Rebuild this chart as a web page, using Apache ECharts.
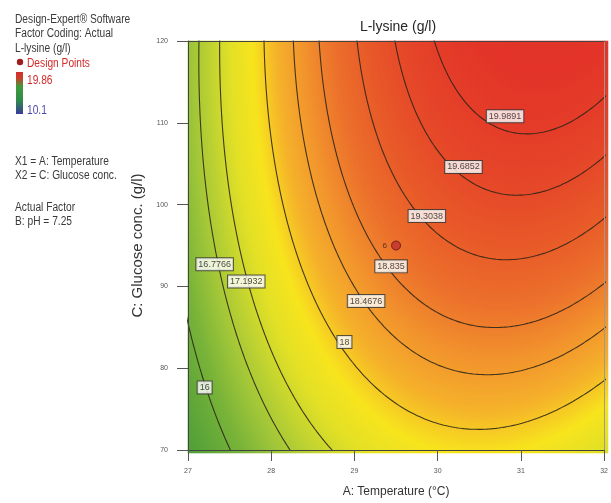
<!DOCTYPE html>
<html>
<head>
<meta charset="utf-8">
<script src="https://cdn.jsdelivr.net/npm/echarts@6/dist/echarts.min.js"></script>
<style>
  html, body { margin: 0; padding: 0; background: #ffffff; }
  #chart { width: 611px; height: 503px; }
</style>
</head>
<body>
<div id="chart"></div>
<script>
// Fitted quadratic model for L-lysine (g/l) in coded factors
// x = (Temperature - 29.5) / 2.5,  z = (Glucose - 95) / 25
const modelTerms = ['Intercept', 'A', 'C', 'AC', 'A^2', 'C^2'];
const modelCoefs = [19.01, 1.417, 1.036, 0.423, -1.31, -0.351];

const tempRange = [27, 32];
const glucoseRange = [70, 120];
const tempTicks = [27, 28, 29, 30, 31, 32];
const glucoseTicks = [70, 80, 90, 100, 110, 120];

// contour levels and where each level's label sits (temperature, glucose)
const contourLevels = [16, 16.7766, 17.1932, 18, 18.4676, 18.835, 19.3038, 19.6852, 19.9891];
const labelTemp = [27.20, 27.32, 27.70, 28.88, 29.14, 29.44, 29.87, 30.31, 30.81];
const labelGlucose = [77.65, 92.7, 90.6, 83.2, 88.2, 92.45, 98.6, 104.6, 110.8];

// design points: temperature, glucose, replicate count
const designPoints = [[29.5, 95, 6]];

// response range shown in the colour key
const responseRange = [10.1, 19.86];

const [b0, b1, b2, b12, b11, b22] = modelCoefs;
const tMid = (tempRange[0] + tempRange[1]) / 2, tHalf = (tempRange[1] - tempRange[0]) / 2;
const gMid = (glucoseRange[0] + glucoseRange[1]) / 2, gHalf = (glucoseRange[1] - glucoseRange[0]) / 2;

function lysine(t, g) {
  const x = (t - tMid) / tHalf, z = (g - gMid) / gHalf;
  return b0 + b1 * x + b2 * z + b12 * x * z + b11 * x * x + b22 * z * z;
}

// ---- surface cells (2 px each) ----
const NX = 210, NY = 206;
const xCats = [], yCats = [], cells = [];
for (let i = 0; i < NX; i++) xCats.push(i);
for (let j = 0; j < NY; j++) yCats.push(j);
for (let i = 0; i < NX; i++) {
  const t = tempRange[0] + (i + 0.5) * (tempRange[1] - tempRange[0]) / NX;
  for (let j = 0; j < NY; j++) {
    const g = glucoseRange[0] + (j + 0.5) * (glucoseRange[1] - glucoseRange[0]) / NY;
    cells.push([i, j, lysine(t, g)]);
  }
}

// ---- contour lines: the model is an elliptic paraboloid, so each level is an ellipse ----
const det = 4 * b11 * b22 - b12 * b12;
const xc = (-2 * b1 * b22 + b12 * b2) / det;
const zc = (-2 * b11 * b2 + b12 * b1) / det;
const fMax = b0 + (b1 * xc + b2 * zc) / 2;

function contourRuns(level) {
  const runs = [];
  let run = null;
  const N = 4000;
  for (let k = 0; k <= N; k++) {
    const th = Math.PI / 2 + 2 * Math.PI * k / N;
    const c = Math.cos(th), s = Math.sin(th);
    const q = b11 * c * c + b12 * c * s + b22 * s * s;
    const r = Math.sqrt((level - fMax) / q);
    const x = xc + r * c, z = zc + r * s;
    if (Math.abs(x) <= 1.08 && Math.abs(z) <= 1.08) {
      if (!run) { run = []; runs.push(run); }
      run.push([tMid + tHalf * x, gMid + gHalf * z]);
    } else {
      run = null;
    }
  }
  return runs;
}

const FONT = '"Liberation Sans", Arial, sans-serif';
const series = [];

series.push({
  type: 'heatmap',
  xAxisIndex: 0, yAxisIndex: 0,
  data: cells,
  progressive: 0,
  silent: true,
  itemStyle: { borderWidth: 0 },
  z: 1
});

contourLevels.forEach(level => {
  contourRuns(level).forEach(run => {
    series.push({
      type: 'line',
      xAxisIndex: 1, yAxisIndex: 1,
      data: run,
      symbol: 'none',
      clip: true,
      silent: true,
      lineStyle: { color: '#2a2417', width: 1.1, opacity: 0.88 },
      z: 3
    });
  });
});

series.push({
  type: 'scatter',
  xAxisIndex: 1, yAxisIndex: 1,
  symbolSize: 0,
  silent: true,
  z: 5,
  data: contourLevels.map((lv, k) => [labelTemp[k], labelGlucose[k], lv]),
  label: {
    show: true,
    position: 'inside',
    formatter: p => String(p.value[2]),
    fontFamily: FONT,
    fontSize: 9,
    color: '#1a1a1a',
    backgroundColor: '#ffffff',
    borderColor: '#333333',
    borderWidth: 1,
    padding: [2, 2, 1, 2]
  }
});

series.push({
  type: 'scatter',
  xAxisIndex: 1, yAxisIndex: 1,
  symbol: 'circle',
  symbolSize: 9,
  silent: true,
  z: 6,
  data: designPoints.map(d => [d[0], d[1], d[2]]),
  itemStyle: { color: '#c0302f', borderColor: '#5a1414', borderWidth: 1 },
  label: {
    show: true,
    position: 'left',
    distance: 4,
    formatter: p => String(p.value[2]),
    fontFamily: FONT,
    fontSize: 8,
    color: '#3a2020'
  }
});

const grid = { left: 188, top: 41, width: 420, height: 412 };

function note(text, y, color) {
  return {
    type: 'text', x: 15, y: y, scaleX: 0.85,
    style: { text: text, fill: color || '#3a3a3a', font: '12px ' + FONT, verticalAlign: 'middle' }
  };
}

const option = {
  animation: false,
  backgroundColor: '#ffffff',
  title: {
    text: 'L-lysine (g/l)',
    left: 398, top: 20, padding: 0,
    textAlign: 'center',
    textStyle: { fontFamily: FONT, fontSize: 14, fontWeight: 'normal', color: '#262626' }
  },
  grid: [
    Object.assign({ show: false }, grid),
    Object.assign({ show: false }, grid)
  ],
  xAxis: [
    { type: 'category', gridIndex: 0, data: xCats, show: false },
    {
      type: 'value', gridIndex: 1, min: tempRange[0], max: tempRange[1], interval: 1,
      z: 10,
      name: 'A: Temperature (°C)', nameLocation: 'middle', nameGap: 36,
      nameTextStyle: { fontFamily: FONT, fontSize: 12, color: '#333333' },
      axisLine: { show: true, lineStyle: { color: '#444444', width: 1 } },
      axisTick: { show: true, length: 11, lineStyle: { color: '#555555' } },
      axisLabel: { fontFamily: FONT, fontSize: 7, color: '#555555', margin: 18,
        formatter: v => tempTicks.includes(v) ? String(v) : '' },
      splitLine: { show: false }
    },
    {
      type: 'value', gridIndex: 1, position: 'top', min: tempRange[0], max: tempRange[1],
      z: 10,
      axisLine: { show: true, lineStyle: { color: '#444444', width: 1 } },
      axisTick: { show: false }, axisLabel: { show: false }, splitLine: { show: false }
    }
  ],
  yAxis: [
    { type: 'category', gridIndex: 0, data: yCats, show: false },
    {
      type: 'value', gridIndex: 1, min: glucoseRange[0], max: glucoseRange[1], interval: 10,
      z: 10,
      name: 'C: Glucose conc. (g/l)', nameLocation: 'middle', nameGap: 38,
      nameTextStyle: { fontFamily: FONT, fontSize: 15, color: '#333333' },
      axisLine: { show: true, lineStyle: { color: '#444444', width: 1 } },
      axisTick: { show: true, length: 11, lineStyle: { color: '#555555' } },
      axisLabel: { fontFamily: FONT, fontSize: 7, color: '#555555', margin: 20,
        formatter: v => glucoseTicks.includes(v) ? String(v) : '' },
      splitLine: { show: false }
    },
    {
      type: 'value', gridIndex: 1, position: 'right', min: glucoseRange[0], max: glucoseRange[1],
      z: 10,
      axisLine: { show: true, lineStyle: { color: '#9a9a9a', width: 1 } },
      axisTick: { show: false }, axisLabel: { show: false }, splitLine: { show: false }
    }
  ],
  visualMap: {
    type: 'continuous',
    show: false,
    seriesIndex: 0,
    dimension: 2,
    min: 15.0,
    max: 20.6,
    inRange: {
      color: ['#469639', '#52a03a', '#64a93a', '#7ab43a', '#9cc43a', '#bed232', '#e2e027',
              '#f7e41e', '#f5b22b', '#f2942e', '#ec722c', '#e85a2a', '#e5452a', '#e3362a', '#e0302a']
    }
  },
  graphic: [
    note('Design-Expert® Software', 20),
    note('Factor Coding: Actual', 34),
    note('L-lysine (g/l)', 49),
    { type: 'circle', shape: { cx: 20, cy: 62, r: 3.2 }, style: { fill: '#9c1e1e' } },
    { type: 'text', x: 27, y: 64, scaleX: 0.85,
      style: { text: 'Design Points', fill: '#d42a2a', font: '12px ' + FONT, verticalAlign: 'middle' } },
    { type: 'rect', shape: { x: 16, y: 72, width: 7, height: 42 },
      style: { fill: new echarts.graphic.LinearGradient(0, 0, 0, 1, [
        { offset: 0, color: '#d62c2c' },
        { offset: 0.15, color: '#c8402c' },
        { offset: 0.35, color: '#3f9a3c' },
        { offset: 0.68, color: '#2e8a4a' },
        { offset: 1, color: '#3a3c9c' }
      ]) } },
    { type: 'text', x: 27, y: 81, scaleX: 0.85,
      style: { text: String(responseRange[1]), fill: '#d42a2a', font: '12px ' + FONT, verticalAlign: 'middle' } },
    { type: 'text', x: 27, y: 111, scaleX: 0.85,
      style: { text: String(responseRange[0]), fill: '#4a4aa8', font: '12px ' + FONT, verticalAlign: 'middle' } },
    note('X1 = A: Temperature', 162),
    note('X2 = C: Glucose conc.', 176),
    note('Actual Factor', 208),
    note('B: pH = 7.25', 222)
  ],
  series: series
};

const chart = echarts.init(document.getElementById('chart'), null, { renderer: 'canvas' });
chart.setOption(option);
</script>
</body>
</html>
